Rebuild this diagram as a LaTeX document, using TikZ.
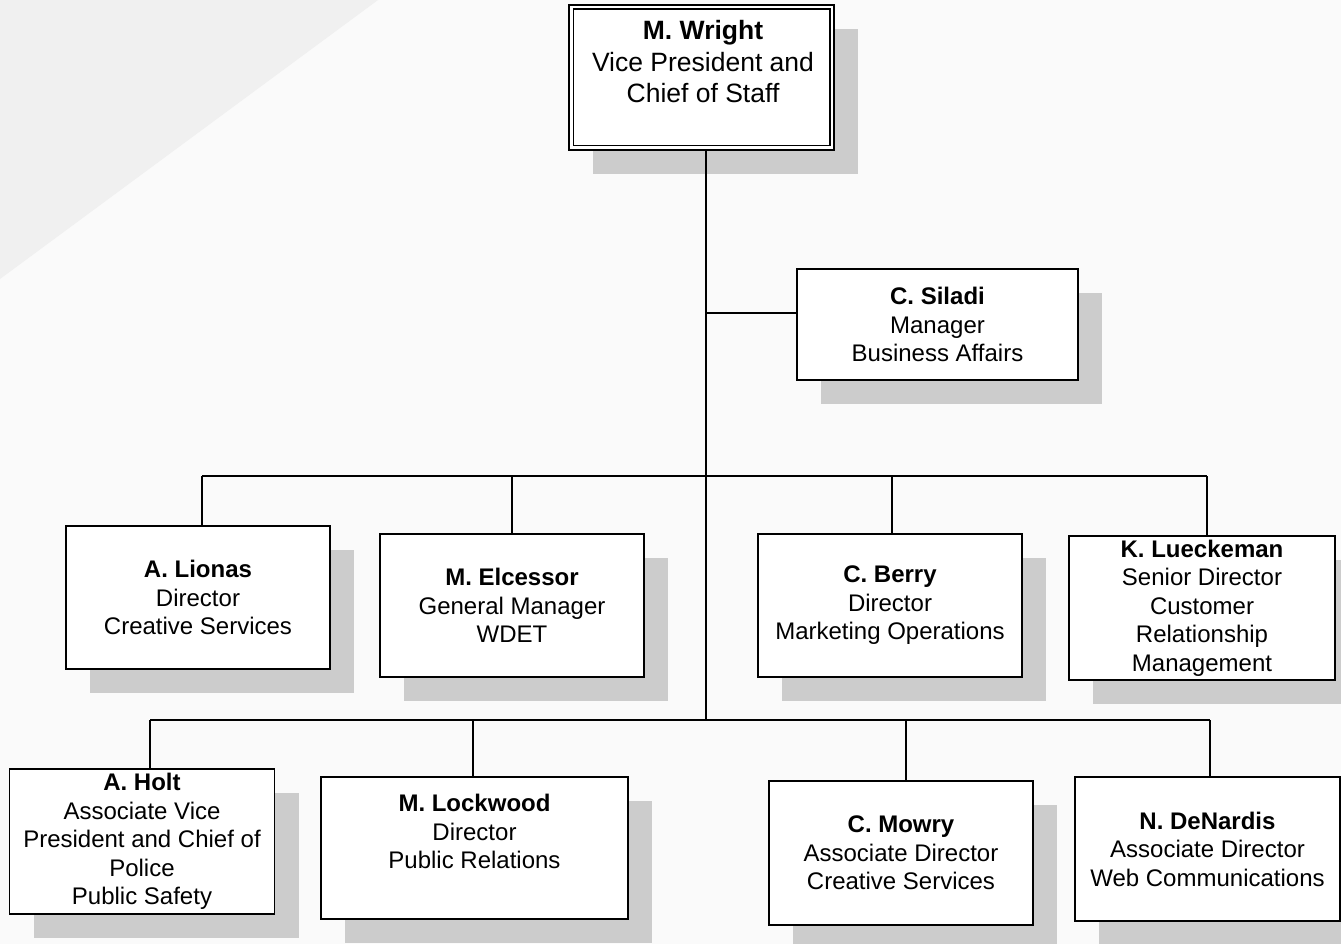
\documentclass[tikz,border=0pt]{standalone}
\usepackage{fontspec}
\setmainfont{Liberation Sans}
\usetikzlibrary{shadows}
\definecolor{bgmain}{HTML}{FAFAFA}
\definecolor{bgtri}{HTML}{F0F0F0}
\definecolor{shadowgray}{HTML}{CCCCCC}
\tikzset{
  box/.style={draw, line width=1.5pt, fill=white, align=center, inner sep=2pt,
    font=\fontsize{24}{28.5}\selectfont,
    drop shadow={shadow xshift=24pt, shadow yshift=-24pt, fill=shadowgray, opacity=1}},
  boxtext/.style={align=center, inner sep=0pt, font=\fontsize{24}{28.5}\selectfont},
  conn/.style={line width=1.5pt},
}
\begin{document}
\begin{tikzpicture}[x=1pt,y=-1pt]
\useasboundingbox (0,0) rectangle (1341,944);
\fill[bgmain] (0,0) rectangle (1341,944);
\fill[bgtri] (0,0) -- (378,0) -- (0,279) -- cycle;

% top box
\node[box, minimum width=265pt, minimum height=145pt] (wright) at (701.5,77.5) {};
\draw[line width=1.5pt] ([shift={(5pt,-5pt)}]wright.north west) rectangle ([shift={(-5pt,5pt)}]wright.south east);
\node[boxtext, anchor=north, font=\fontsize{26.5}{31.5}\selectfont] (wrighttext) at (703,20.5)
  {\textbf{M. Wright}\\Vice President and\\Chief of Staff};

\node[box, minimum width=281pt, minimum height=111pt] (siladi) at (937.5,324.5)
  {\textbf{C. Siladi}\\Manager\\Business Affairs};

% second row
\node[box, minimum width=264pt, minimum height=143pt] (lionas) at (198,597.5)
  {\textbf{A. Lionas}\\Director\\Creative Services};
\node[box, minimum width=264pt, minimum height=143pt] (elcessor) at (512,605.5)
  {\textbf{M. Elcessor}\\General Manager\\WDET};
\node[box, minimum width=264pt, minimum height=143pt] (berry) at (890,605.5)
  {\textbf{C. Berry}\\Director\\Marketing Operations};
\node[box, minimum width=266pt, minimum height=144pt] (lueckeman) at (1202,608)
  {\textbf{K. Lueckeman}\\Senior Director\\Customer\\Relationship\\Management};

% third row
\node[box, minimum width=265pt, minimum height=145pt] (holt) at (142,841.5)
  {\textbf{A. Holt}\\Associate Vice\\President and Chief of\\Police\\Public Safety};
\node[box, minimum width=307pt, minimum height=142pt] (lockwood) at (474.5,848) {};
\node[boxtext, anchor=north] (lockwoodtext) at (474.5,794)
  {\textbf{M. Lockwood}\\Director\\Public Relations};
\node[box, minimum width=264pt, minimum height=144pt] (mowry) at (901,853)
  {\textbf{C. Mowry}\\Associate Director\\Creative Services};
\node[box, minimum width=265pt, minimum height=144pt] (denardis) at (1207.5,849)
  {\textbf{N. DeNardis}\\Associate Director\\Web Communications};

% connector points
\coordinate (s) at (706,313);
\coordinate (h2) at (706,476);
\coordinate (h3) at (706,720);
\coordinate (d1) at (202,476);
\coordinate (d2) at (512,476);
\coordinate (d3) at (892,476);
\coordinate (d4) at (1207,476);
\coordinate (e1) at (150,720);
\coordinate (e2) at (473,720);
\coordinate (e3) at (906,720);
\coordinate (e4) at (1210,720);

\draw[conn] (wright.south -| h3) -- (h3);
\draw[conn] (s) -- (s -| siladi.west);
\draw[conn] (d1) -- (d4);
\draw[conn] (d1) -- (d1 |- lionas.north);
\draw[conn] (d2) -- (d2 |- elcessor.north);
\draw[conn] (d3) -- (d3 |- berry.north);
\draw[conn] (d4) -- (d4 |- lueckeman.north);
\draw[conn] (e1) -- (e4);
\draw[conn] (e1) -- (e1 |- holt.north);
\draw[conn] (e2) -- (e2 |- lockwood.north);
\draw[conn] (e3) -- (e3 |- mowry.north);
\draw[conn] (e4) -- (e4 |- denardis.north);
\end{tikzpicture}
\end{document}
